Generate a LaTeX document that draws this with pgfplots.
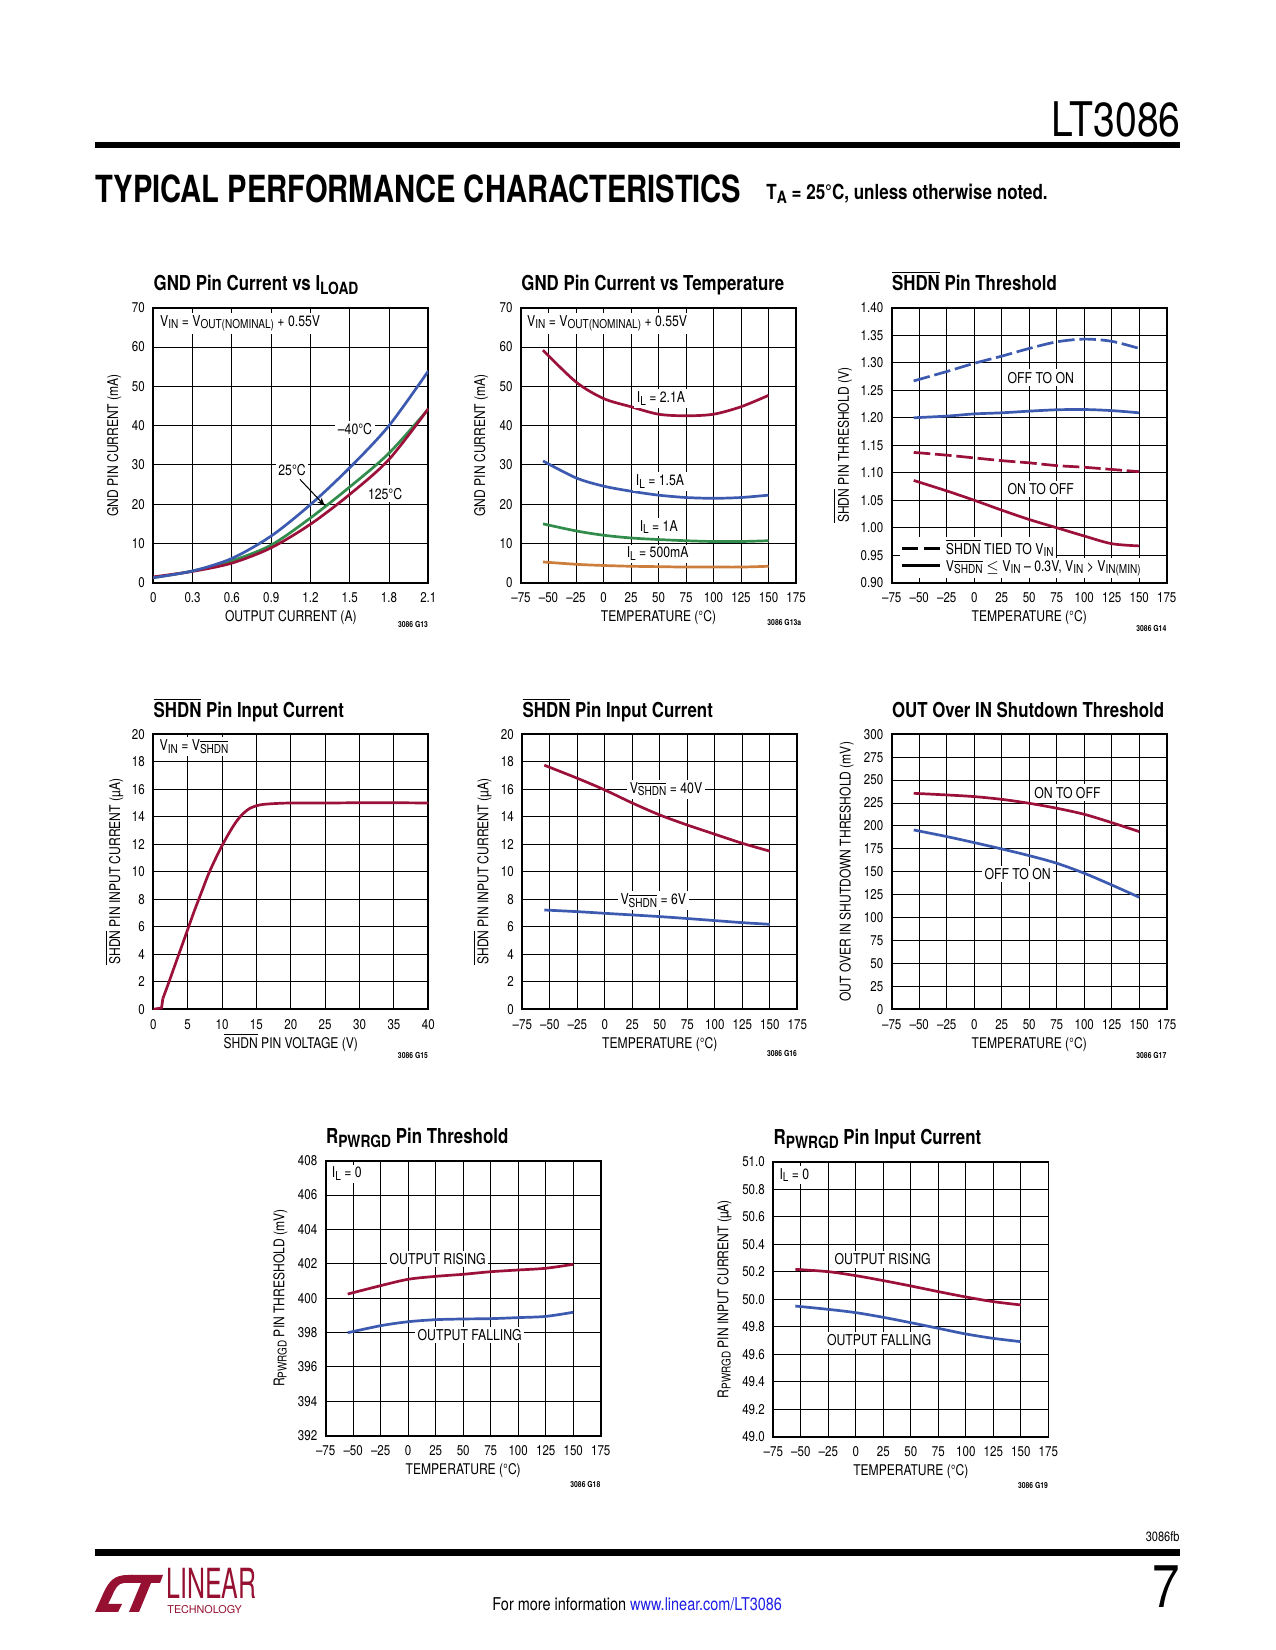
\documentclass[border=0pt]{standalone}
\usepackage{fontspec}
\setmainfont{TeX Gyre Heros}[FakeStretch=0.82]
\newfontfamily\bigfam{TeX Gyre Heros}[FakeStretch=0.78]
\newfontfamily\logofam{TeX Gyre Heros}[FakeStretch=0.6]
\newfontfamily\widefam{TeX Gyre Heros}
\usepackage{pgfplots}
\pgfplotsset{compat=1.18}
\usetikzlibrary{arrows.meta}

\definecolor{ltred}{RGB}{155,17,58}
\definecolor{ltblue}{RGB}{60,90,175}
\definecolor{ltgreen}{RGB}{50,140,75}
\definecolor{ltorange}{RGB}{205,125,60}
\definecolor{linkblue}{RGB}{30,30,230}
\definecolor{ltlogo}{RGB}{150,16,50}

\makeatletter
\newcommand\sub[1]{{\@tempdima=\f@size pt\@tempdima=0.82\@tempdima
  \raisebox{-0.3ex}{\fontsize{\strip@pt\@tempdima}{\strip@pt\@tempdima}\selectfont #1}}}
\makeatother
\newcommand\shdn{\ensuremath{\overline{\mbox{SHDN}}}}
\newcommand\tf{\fontsize{6.8}{8}\selectfont}
\newcommand\lf{\fontsize{7.1}{8}\selectfont}
\newcommand\af{\fontsize{7.2}{8}\selectfont}
\newcommand\gf{\bfseries\fontsize{4}{5}\selectfont}

\tikzset{
  lab/.style={font=\af, fill=white, inner sep=1.2pt},
  gno/.style={anchor=base east, font=\gf, inner sep=0pt},
}
\pgfplotsset{
  ds/.style={
    scale only axis, width=132.5pt, height=132.5pt, anchor=south west,
    clip mode=individual,
    axis line style={line width=0.8pt},
    grid=major, major grid style={black, line width=0.5pt},
    major tick length=0pt,
    tick label style={font=\tf},
    /pgf/number format/assume math mode=true,
    xticklabel style={anchor=base, inner sep=0pt, yshift=-9.6pt},
    yticklabel style={anchor=east, inner sep=0pt, xshift=-3.9pt},
    xlabel style={at={(axis description cs:0.5,0)}, anchor=base, inner sep=0pt, yshift=-18.8pt, font=\lf},
    ylabel style={anchor=center, inner sep=0pt, font=\lf},
    title style={at={(axis description cs:0,1)}, anchor=base west, inner sep=0pt, yshift=2.1pt, font=\bfseries\fontsize{9.9}{11}\selectfont},
    every axis plot/.append style={line width=1.3pt, smooth, mark=none},
  },
  tempx/.style={xmin=-75, xmax=175, xtick={-75,-50,...,175},
    xticklabels={–75,–50,–25,0,25,50,75,100,125,150,175},
    xlabel={TEMPERATURE (°C)}},
}

\begin{document}
\begin{tikzpicture}[x=0.48180pt, y=0.48180pt]
\fill[white] (0,0) rectangle (1275,1650);

% ---------------- page decorations ----------------
\begin{scope}[shift={(0,1650)}, yscale=-1]
  \node[anchor=base east, inner sep=0pt, font=\fontsize{23}{24}\selectfont] at (1181,136.5) {LT3086};
  \fill[black] (95,142) rectangle (1180,148);
  \node[anchor=base west, inner sep=0pt, font=\bigfam\bfseries\fontsize{18}{20}\selectfont] at (95,202.5) {TYPICAL PERFORMANCE CHARACTERISTICS};
  \node[anchor=base west, inner sep=0pt, font=\bfseries\fontsize{10}{12}\selectfont] at (766,200) {T\sub{A} = 25°C, unless otherwise noted.};
  % footer
  \node[anchor=base east, inner sep=0pt, font=\fontsize{6.5}{7}\selectfont] at (1180,1542) {3086fb};
  \fill[black] (95,1549.5) rectangle (1180,1556);
  \node[anchor=base east, inner sep=0pt, font=\fontsize{29}{30}\selectfont] at (1180,1607.5) {7};
  \node[anchor=base west, inner sep=0pt, font=\fontsize{8.5}{10}\selectfont] at (492,1611) {For more information \textcolor{linkblue}{www.linear.com/LT3086}};
  % logo
  \fill[ltlogo] (95,1612) -- (103,1594) .. controls (109,1581) and (114,1575) .. (128,1575) -- (133,1575) -- (129,1583) -- (124,1583) .. controls (118,1583) and (115,1589) .. (112,1596) -- (108,1604) -- (122,1604) -- (118,1612) -- cycle;
  \fill[ltlogo] (131,1575) -- (163,1575) -- (160,1583) -- (151,1583) -- (139,1612) -- (129,1612) -- (141,1583) -- (128,1583) -- cycle;
  \node[anchor=base west, inner sep=0pt, text=ltlogo, font=\logofam\fontsize{20}{21}\selectfont] at (166,1598.5) {LINEAR};
  \node[anchor=base west, inner sep=0pt, text=ltlogo, font=\widefam\fontsize{5.2}{6}\selectfont] at (167,1614) {TECHNOLOGY};
\end{scope}

% ---------------- Chart 1 ----------------
\begin{axis}[ds, at={(73.86pt,514.18pt)},
  xmin=0, xmax=2.1, ymin=0, ymax=70,
  xtick={0,0.3,0.6,0.9,1.2,1.5,1.8,2.1}, xticklabels={0,0.3,0.6,0.9,1.2,1.5,1.8,2.1},
  ytick={0,10,20,30,40,50,60,70},
  xlabel={OUTPUT CURRENT (A)}, ylabel={GND PIN CURRENT (mA)},
  ylabel style={at={(axis description cs:-0.142,0.5)}},
  title={GND Pin Current vs I\sub{LOAD}}]
\addplot[ltgreen] coordinates {(0,1.3) (0.3,3.0) (0.6,5.6) (0.9,9.6) (1.2,16.5) (1.5,24.4) (1.8,33.0) (2.1,44.2)};
\addplot[ltred] coordinates {(0,1.5) (0.3,2.9) (0.6,5.0) (0.9,8.9) (1.2,14.9) (1.5,22.5) (1.8,31.4) (2.1,44.3)};
\addplot[ltblue] coordinates {(0,1.3) (0.3,3.0) (0.6,6.2) (0.9,11.9) (1.2,19.9) (1.5,29.3) (1.8,40.0) (2.1,53.9)};
\node[lab, anchor=north west] at (axis cs:0.03,68.8) {V\sub{IN} = V\sub{OUT(NOMINAL)} + 0.55V};
\node[lab] at (axis cs:1.54,39) {–40°C};
\node[lab] at (axis cs:1.06,28.6) {25°C};
\node[lab] at (axis cs:1.77,22.7) {125°C};
\draw[-{Stealth[length=4pt,width=3pt]}, line width=0.5pt] (axis cs:1.12,26.3) -- (axis cs:1.31,19.6);
\node[gno, yshift=-21.7pt] at (rel axis cs:1,0) {3086 G13};
\end{axis}

% ---------------- Chart 2 ----------------
\begin{axis}[ds, tempx, at={(251.02pt,514.18pt)},
  ymin=0, ymax=70, ytick={0,10,20,30,40,50,60,70},
  ylabel={GND PIN CURRENT (mA)},
  ylabel style={at={(axis description cs:-0.145,0.5)}},
  title={GND Pin Current vs Temperature}]
\addplot[ltred] coordinates {(-55,59.2) (-25,51.1) (0,46.9) (25,44.8) (50,42.9) (75,42.5) (100,42.9) (125,44.8) (150,47.7)};
\addplot[ltblue] coordinates {(-55,31.0) (-25,26.7) (0,24.6) (25,23.3) (50,22.3) (75,21.7) (100,21.5) (125,21.7) (150,22.3)};
\addplot[ltgreen] coordinates {(-55,15.0) (-25,13.2) (0,12.1) (25,11.4) (50,11.0) (75,10.7) (100,10.5) (125,10.5) (150,10.7)};
\addplot[ltorange] coordinates {(-55,5.3) (-25,4.7) (0,4.4) (25,4.2) (50,4.1) (75,4.0) (100,4.0) (125,4.0) (150,4.2)};
\node[lab, anchor=north west] at (axis cs:-72,68.8) {V\sub{IN} = V\sub{OUT(NOMINAL)} + 0.55V};
\node[lab] at (axis cs:52.3,46.9) {I\sub{L} = 2.1A};
\node[lab] at (axis cs:51.4,25.8) {I\sub{L} = 1.5A};
\node[lab] at (axis cs:50.2,14.2) {I\sub{L} = 1A};
\node[lab] at (axis cs:49.2,7.4) {I\sub{L} = 500mA};
\node[gno, yshift=-20.8pt] at (rel axis cs:1.02,0) {3086 G13a};
\end{axis}

% ---------------- Chart 3 ----------------
\begin{axis}[ds, tempx, at={(429.62pt,514.18pt)},
  ymin=0.9, ymax=1.4, ytick={0.9,0.95,1.0,1.05,1.1,1.15,1.2,1.25,1.3,1.35,1.4},
  yticklabel style={/pgf/number format/fixed, /pgf/number format/fixed zerofill, /pgf/number format/precision=2},
  ylabel={\shdn{} PIN THRESHOLD (V)},
  ylabel style={at={(axis description cs:-0.178,0.5)}},
  title={\shdn{} Pin Threshold}]
\addplot[ltblue, dash pattern=on 8pt off 2.3pt] coordinates {(-55,1.267) (-25,1.284) (0,1.299) (25,1.312) (50,1.326) (75,1.338) (100,1.343) (125,1.339) (150,1.326)};
\addplot[ltblue] coordinates {(-55,1.200) (-25,1.203) (0,1.207) (25,1.209) (50,1.212) (75,1.2145) (100,1.215) (125,1.213) (150,1.209)};
\addplot[ltred, dash pattern=on 8pt off 2.3pt] coordinates {(-55,1.137) (-25,1.132) (0,1.127) (25,1.122) (50,1.118) (75,1.113) (100,1.110) (125,1.106) (150,1.102)};
\addplot[ltred] coordinates {(-55,1.086) (-25,1.067) (0,1.050) (25,1.032) (50,1.015) (75,1.000) (100,0.985) (125,0.971) (150,0.967)};
\node[lab] at (axis cs:60.5,1.273) {OFF TO ON};
\node[lab] at (axis cs:60.5,1.070) {ON TO OFF};
\node[lab, anchor=base west, inner sep=1pt] at (axis cs:-68.3,0.9515) {\rule[2.2pt]{8pt}{1.3pt}\hspace{2.6pt}\rule[2.2pt]{8pt}{1.3pt}\hspace{2.8pt}\shdn{} TIED TO V\sub{IN}};
\node[lab, anchor=base west, inner sep=1pt] at (axis cs:-68.3,0.9212) {\rule[2.2pt]{18.6pt}{1.3pt}\hspace{2.8pt}V\sub{\shdn} $\le$ V\sub{IN} – 0.3V, V\sub{IN} > V\sub{IN(MIN)}};
\node[gno, yshift=-23.4pt] at (rel axis cs:1,0) {3086 G14};
\end{axis}

% ---------------- Chart 4 ----------------
\begin{axis}[ds, at={(73.86pt,308.69pt)},
  xmin=0, xmax=40, xtick={0,5,10,15,20,25,30,35,40},
  ymin=0, ymax=20, ytick={0,2,4,6,8,10,12,14,16,18,20},
  xlabel={\shdn{} PIN VOLTAGE (V)}, ylabel={\shdn{} PIN INPUT CURRENT (µA)},
  ylabel style={at={(axis description cs:-0.142,0.5)}},
  title={\shdn{} Pin Input Current}]
\addplot[ltred, sharp plot] coordinates {(0,0) (1.2,0.1) (1.4,0.8)};
\addplot[ltred] coordinates {(1.4,0.8) (2,1.6) (3,3.0) (4,4.4) (5,5.8) (6,7.2) (7,8.5) (8,9.8) (9,10.9) (10,11.9) (11,12.8) (12,13.6) (13,14.2) (14,14.6) (15,14.8) (16,14.9) (18,14.97) (20,15.0) (25,15.0) (30,15.02) (35,15.02) (40,15.0)};
\node[lab, anchor=north west] at (axis cs:0.5,19.8) {V\sub{IN} = V\sub{\shdn}};
\node[gno, yshift=-23.6pt] at (rel axis cs:1,0) {3086 G15};
\end{axis}

% ---------------- Chart 5 ----------------
\begin{axis}[ds, tempx, at={(251.64pt,308.69pt)},
  ymin=0, ymax=20, ytick={0,2,4,6,8,10,12,14,16,18,20},
  ylabel={\shdn{} PIN INPUT CURRENT (µA)},
  ylabel style={at={(axis description cs:-0.145,0.5)}},
  title={\shdn{} Pin Input Current}]
\addplot[ltred] coordinates {(-55,17.75) (-25,16.8) (0,15.95) (25,15.0) (50,14.13) (75,13.4) (100,12.73) (125,12.07) (150,11.5)};
\addplot[ltblue] coordinates {(-55,7.22) (-25,7.1) (0,6.98) (25,6.86) (50,6.74) (75,6.6) (100,6.45) (125,6.3) (150,6.18)};
\node[lab] at (axis cs:55.6,16.0) {V\sub{\shdn} = 40V};
\node[lab] at (axis cs:44.1,7.9) {V\sub{\shdn} = 6V};
\node[gno, yshift=-22.6pt] at (rel axis cs:1,0) {3086 G16};
\end{axis}

% ---------------- Chart 6 ----------------
\begin{axis}[ds, tempx, at={(429.62pt,308.69pt)},
  ymin=0, ymax=300, ytick={0,25,...,300},
  ylabel={OUT OVER IN SHUTDOWN THRESHOLD (mV)},
  ylabel style={at={(axis description cs:-0.164,0.5)}},
  title={OUT Over IN Shutdown Threshold}]
\addplot[ltred] coordinates {(-55,235.6) (-25,233.8) (0,232) (25,229) (50,224.7) (75,219.3) (100,212.7) (125,203.6) (150,193.8)};
\addplot[ltblue] coordinates {(-55,195.6) (-25,188.4) (0,181.8) (25,174.9) (50,167.6) (75,159.3) (100,148.4) (125,135.6) (150,122.2)};
\node[lab] at (axis cs:84.7,236.4) {ON TO OFF};
\node[lab] at (axis cs:39.5,147.3) {OFF TO ON};
\node[gno, yshift=-23.6pt] at (rel axis cs:1,0) {3086 G17};
\end{axis}

% ---------------- Chart 7 ----------------
\begin{axis}[ds, tempx, at={(156.92pt,103.25pt)},
  ymin=392, ymax=408, ytick={392,394,...,408},
  ylabel={R\sub{PWRGD} PIN THRESHOLD (mV)},
  ylabel style={at={(axis description cs:-0.165,0.5)}},
  title={R\sub{PWRGD} Pin Threshold}]
\addplot[ltred] coordinates {(-55,400.24) (-25,400.73) (0,401.1) (25,401.27) (50,401.39) (75,401.54) (100,401.64) (125,401.74) (150,401.97)};
\addplot[ltblue] coordinates {(-55,397.99) (-25,398.4) (0,398.63) (25,398.75) (50,398.79) (75,398.81) (100,398.87) (125,398.94) (150,399.18)};
\node[lab, anchor=north west] at (axis cs:-72,407.8) {I\sub{L} = 0};
\node[lab] at (axis cs:26.8,402.28) {OUTPUT RISING};
\node[lab] at (axis cs:55.9,397.86) {OUTPUT FALLING};
\node[gno, yshift=-25pt] at (rel axis cs:1,0) {3086 G18};
\end{axis}

% ---------------- Chart 8 ----------------
\begin{axis}[ds, tempx, at={(372.58pt,102.77pt)},
  ymin=49, ymax=51, ytick={49,49.2,49.4,49.6,49.8,50,50.2,50.4,50.6,50.8,51},
  yticklabel style={/pgf/number format/fixed, /pgf/number format/fixed zerofill, /pgf/number format/precision=1},
  ylabel={R\sub{PWRGD} PIN INPUT CURRENT (µA)},
  ylabel style={at={(axis description cs:-0.178,0.5)}},
  title={R\sub{PWRGD} Pin Input Current}]
\addplot[ltred] coordinates {(-55,50.217) (-25,50.2) (0,50.171) (25,50.135) (50,50.096) (75,50.055) (100,50.016) (125,49.982) (150,49.958)};
\addplot[ltblue] coordinates {(-55,49.95) (-25,49.926) (0,49.902) (25,49.868) (50,49.829) (75,49.788) (100,49.747) (125,49.715) (150,49.691)};
\node[lab, anchor=north west] at (axis cs:-72,50.97) {I\sub{L} = 0};
\node[lab] at (axis cs:24.4,50.29) {OUTPUT RISING};
\node[lab] at (axis cs:21.1,49.70) {OUTPUT FALLING};
\node[gno, yshift=-25pt] at (rel axis cs:1,0) {3086 G19};
\end{axis}
\end{tikzpicture}
\end{document}
